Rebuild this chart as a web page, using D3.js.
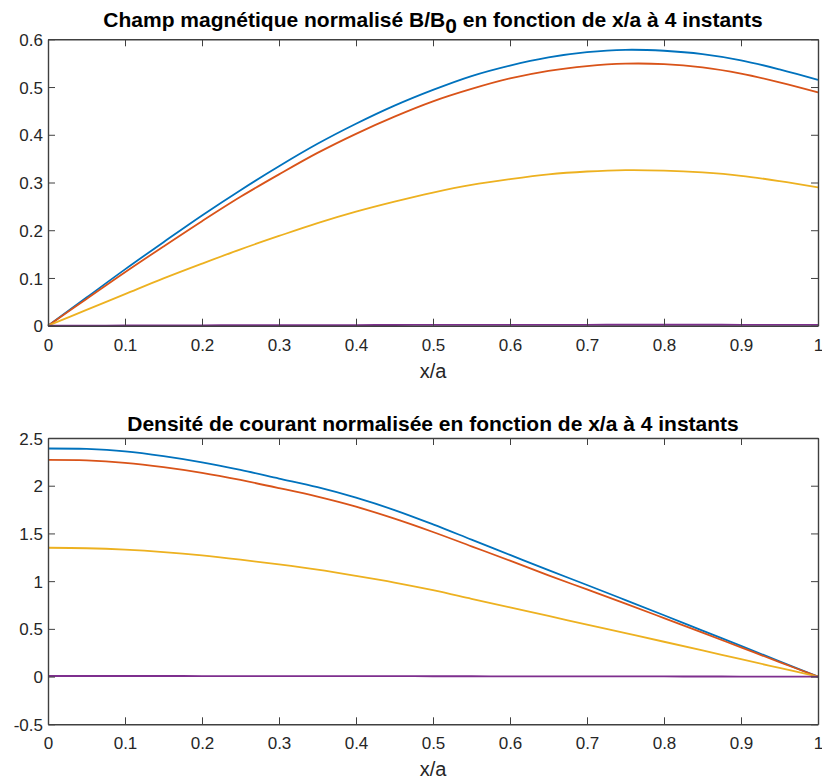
<!DOCTYPE html>
<html>
<head>
<meta charset="utf-8">
<script src="https://cdn.jsdelivr.net/npm/d3@7"></script>
<style>
  html, body { margin: 0; padding: 0; background: #fff; }
  svg { display: block; }
  text { font-family: "Liberation Sans", Arial, Helvetica, sans-serif; fill: #262626; }
</style>
</head>
<body>
<svg id="chart" width="822" height="781"></svg>
<script>
// ---- data ----
const xValues = [0, 0.05, 0.1, 0.15, 0.2, 0.25, 0.3, 0.35, 0.4, 0.45, 0.5, 0.55, 0.6, 0.65, 0.7, 0.75, 0.8, 0.85, 0.9, 0.95, 1];

// Top: normalised magnetic field B/B0
const bBlue   = [0, 0.059, 0.118, 0.175, 0.231, 0.284, 0.334, 0.381, 0.423, 0.461, 0.494, 0.523, 0.545, 0.562, 0.573, 0.578, 0.576, 0.569, 0.556, 0.537, 0.515];
const bRed    = [0, 0.056, 0.112, 0.166, 0.219, 0.270, 0.317, 0.362, 0.402, 0.438, 0.470, 0.496, 0.518, 0.534, 0.544, 0.549, 0.548, 0.541, 0.528, 0.510, 0.489];
const bYellow = [0, 0.033, 0.066, 0.099, 0.130, 0.160, 0.188, 0.215, 0.239, 0.260, 0.279, 0.295, 0.307, 0.317, 0.323, 0.326, 0.325, 0.321, 0.314, 0.303, 0.290];
const bPurple = [0, 0.0002, 0.0004, 0.0006, 0.0008, 0.001, 0.0011, 0.0013, 0.0014, 0.0015, 0.0016, 0.0017, 0.0018, 0.0019, 0.0019, 0.002, 0.002, 0.002, 0.0019, 0.0019, 0.0018];

// Bottom: normalised current density
const jBlue   = [2.39, 2.385, 2.36, 2.31, 2.245, 2.165, 2.075, 1.985, 1.875, 1.745, 1.595, 1.435, 1.275, 1.115, 0.96, 0.802, 0.643, 0.482, 0.321, 0.16, 0];
const jRed    = [2.27, 2.265, 2.24, 2.195, 2.135, 2.06, 1.975, 1.885, 1.78, 1.655, 1.515, 1.365, 1.215, 1.06, 0.913, 0.765, 0.613, 0.46, 0.306, 0.152, 0];
const jYellow = [1.35, 1.345, 1.33, 1.305, 1.27, 1.225, 1.175, 1.12, 1.055, 0.985, 0.905, 0.815, 0.725, 0.635, 0.545, 0.455, 0.365, 0.274, 0.182, 0.091, 0];
const jPurple = [0.006, 0.006, 0.006, 0.006, 0.0058, 0.0056, 0.0053, 0.005, 0.0046, 0.0042, 0.0037, 0.0033, 0.0028, 0.0024, 0.0019, 0.0016, 0.0012, 0.0009, 0.0006, 0.0003, 0];

const seriesColors = ["#0072BD", "#D95319", "#EDB120", "#7E2F8E"];

const xTicks = [0, 0.1, 0.2, 0.3, 0.4, 0.5, 0.6, 0.7, 0.8, 0.9, 1];
const xTickLabels = ["0", "0.1", "0.2", "0.3", "0.4", "0.5", "0.6", "0.7", "0.8", "0.9", "1"];
const yTicksTop = [0, 0.1, 0.2, 0.3, 0.4, 0.5, 0.6];
const yTickLabelsTop = ["0", "0.1", "0.2", "0.3", "0.4", "0.5", "0.6"];
const yTicksBottom = [-0.5, 0, 0.5, 1, 1.5, 2, 2.5];
const yTickLabelsBottom = ["-0.5", "0", "0.5", "1", "1.5", "2", "2.5"];

const titleTopMain = "Champ magnétique normalisé B/B";
const titleTopSub = "0";
const titleTopRest = " en fonction de x/a à 4 instants";
const titleBottom = "Densité de courant normalisée en fonction de x/a à 4 instants";
const xLabel = "x/a";

// ---- drawing ----
const svg = d3.select("#chart");
const axisColor = "#404040";
const tickLen = 7;

function drawPanel(cfg) {
  const { left, right, top, bottom, yDomain, yTicks, yTickLabels, series } = cfg;
  const x = d3.scaleLinear().domain([0, 1]).range([left, right]);
  const y = d3.scaleLinear().domain(yDomain).range([bottom, top]);
  const g = svg.append("g");

  // lines
  const line = d3.line().x(d => x(d[0])).y(d => y(d[1])).curve(d3.curveCatmullRom.alpha(0.5));
  series.forEach((vals, i) => {
    g.append("path")
      .datum(xValues.map((xv, k) => [xv, vals[k]]))
      .attr("fill", "none")
      .attr("stroke", seriesColors[i])
      .attr("stroke-width", 1.8)
      .attr("d", line);
  });

  // axes (inward ticks, box)
  const fmtX = (d) => xTickLabels[xTicks.indexOf(d)];
  const fmtY = (d) => yTickLabels[yTicks.indexOf(d)];
  const axB = g.append("g").attr("transform", `translate(0,${bottom})`)
    .call(d3.axisBottom(x).tickValues(xTicks).tickFormat(fmtX).tickSizeInner(-tickLen).tickSizeOuter(0));
  const axT = g.append("g").attr("transform", `translate(0,${top})`)
    .call(d3.axisTop(x).tickValues(xTicks).tickFormat("").tickSizeInner(-tickLen).tickSizeOuter(0));
  const axL = g.append("g").attr("transform", `translate(${left},0)`)
    .call(d3.axisLeft(y).tickValues(yTicks).tickFormat(fmtY).tickSizeInner(-tickLen).tickSizeOuter(0));
  const axR = g.append("g").attr("transform", `translate(${right},0)`)
    .call(d3.axisRight(y).tickValues(yTicks).tickFormat("").tickSizeInner(-tickLen).tickSizeOuter(0));
  [axB, axT, axL, axR].forEach(a => {
    a.select(".domain").attr("stroke", axisColor).attr("stroke-width", 1.4);
    a.selectAll(".tick line").attr("stroke", axisColor).attr("stroke-width", 1);
    a.selectAll(".tick text").attr("fill", "#262626").style("font-size", "17px")
      .style("font-family", '"Liberation Sans", Arial, sans-serif');
  });
  axB.selectAll(".tick text").attr("dy", null).attr("y", 25);
  axL.selectAll(".tick text").attr("x", -5).attr("dy", "0.36em");

  // x label
  g.append("text")
    .attr("x", (left + right) / 2)
    .attr("y", bottom + 52)
    .attr("text-anchor", "middle")
    .style("font-size", "20px")
    .text(xLabel);
  return g;
}

const L = 48, R = 818;

drawPanel({
  left: L, right: R, top: 39.3, bottom: 325.7,
  yDomain: [0, 0.6], yTicks: yTicksTop, yTickLabels: yTickLabelsTop,
  series: [bBlue, bRed, bYellow, bPurple]
});

drawPanel({
  left: L, right: R, top: 438, bottom: 724.3,
  yDomain: [-0.5, 2.5], yTicks: yTicksBottom, yTickLabels: yTickLabelsBottom,
  series: [jBlue, jRed, jYellow, jPurple]
});

// titles
const t1 = svg.append("text")
  .attr("x", (L + R) / 2).attr("y", 27)
  .attr("text-anchor", "middle")
  .style("font-size", "21px").style("font-weight", "bold").style("fill", "#000");
t1.append("tspan").text(titleTopMain);
t1.append("tspan").attr("dy", 6).text(titleTopSub);
t1.append("tspan").attr("dy", -6).text(titleTopRest);

svg.append("text")
  .attr("x", (L + R) / 2).attr("y", 431)
  .attr("text-anchor", "middle")
  .style("font-size", "21px").style("font-weight", "bold").style("fill", "#000")
  .text(titleBottom);
</script>
</body>
</html>
